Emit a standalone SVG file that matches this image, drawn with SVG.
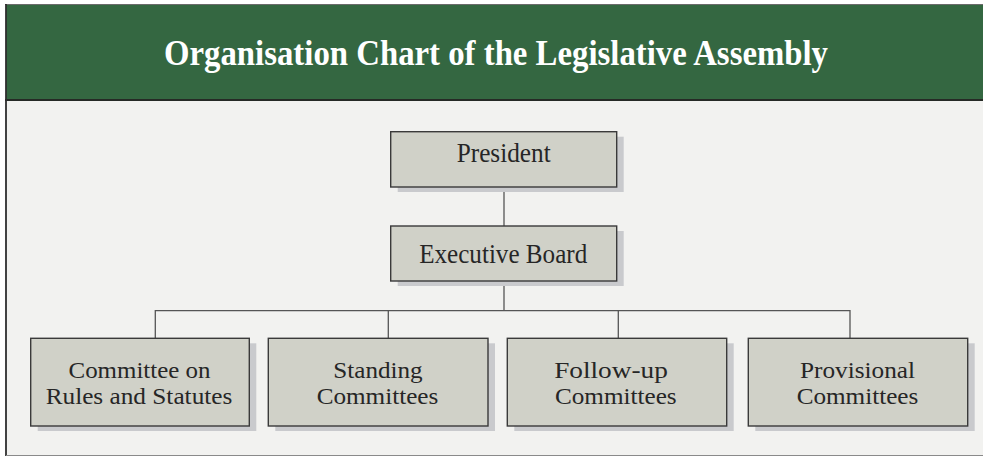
<svg xmlns="http://www.w3.org/2000/svg" width="983" height="457" viewBox="0 0 983 457">
<style>
.box{fill:#d0d1c8;stroke:#3a3a3a;stroke-width:1.4}
.shd{fill:#c9cacd}
.lbl{font-family:"Liberation Serif","Times New Roman",serif;font-size:27px;fill:#262626;text-anchor:middle}
.two{font-size:23px}
.conn{stroke:#555;stroke-width:1.3;fill:none}
</style>
<rect x="0" y="0" width="983" height="457" fill="#ffffff"/>
<rect x="6" y="5" width="980" height="450" fill="#f2f2f0"/>
<g id="header">
<rect x="6" y="5" width="980" height="95" fill="#346741"/>
<line x1="5" y1="4.5" x2="983" y2="4.5" stroke="#6b6b6b" stroke-width="1.2"/>
<line x1="5" y1="100" x2="983" y2="100" stroke="#262a26" stroke-width="2"/>
<text x="496" y="65" font-family="'Liberation Serif','Times New Roman',serif" font-size="35" font-weight="bold" fill="#ffffff" text-anchor="middle" textLength="664" lengthAdjust="spacingAndGlyphs">Organisation Chart of the Legislative Assembly</text>
</g>
<line x1="6" y1="4" x2="6" y2="456" stroke="#2e2e2e" stroke-width="1.8"/>
<line x1="6" y1="455.5" x2="983" y2="455.5" stroke="#8a8a8a" stroke-width="1.2"/>
<g id="connectors">
<line class="conn" x1="504" y1="187" x2="504" y2="226"/>
<line class="conn" x1="504" y1="281" x2="504" y2="310.7"/>
<path class="conn" d="M155.3 338.3 V310.7 H850 V338.3"/>
<line class="conn" x1="388.3" y1="310.7" x2="388.3" y2="338.3"/>
<line class="conn" x1="618.3" y1="310.7" x2="618.3" y2="338.3"/>
</g>
<g id="president">
<rect class="shd" x="397.7" y="136.7" width="226" height="55.3"/>
<rect class="box" x="390.7" y="131.7" width="226" height="55.3"/>
<text class="lbl" x="503.7" y="162.3" textLength="94" lengthAdjust="spacingAndGlyphs">President</text>
</g>
<g id="executive-board">
<rect class="shd" x="397.7" y="231" width="226" height="55"/>
<rect class="box" x="390.7" y="226" width="226" height="55"/>
<text class="lbl" x="503.2" y="262.7" textLength="168" lengthAdjust="spacingAndGlyphs">Executive Board</text>
</g>
<g id="rules">
<rect class="shd" x="37.7" y="343.3" width="218.6" height="87.7"/>
<rect class="box" x="30.7" y="338.3" width="218.6" height="87.7"/>
<text class="lbl two" x="139.5" y="378.2" textLength="142" lengthAdjust="spacingAndGlyphs">Committee on</text>
<text class="lbl two" x="139" y="403.8" textLength="186.7" lengthAdjust="spacingAndGlyphs">Rules and Statutes</text>
</g>
<g id="standing">
<rect class="shd" x="275.3" y="343.3" width="219.7" height="87.7"/>
<rect class="box" x="268.3" y="338.3" width="219.7" height="87.7"/>
<text class="lbl two" x="378" y="378.2" textLength="89.4" lengthAdjust="spacingAndGlyphs">Standing</text>
<text class="lbl two" x="377.5" y="403.8" textLength="121.7" lengthAdjust="spacingAndGlyphs">Committees</text>
</g>
<g id="follow-up">
<rect class="shd" x="514.3" y="343.3" width="219.4" height="87.7"/>
<rect class="box" x="507.3" y="338.3" width="219.4" height="87.7"/>
<text class="lbl two" x="611" y="378.2" textLength="113.7" lengthAdjust="spacingAndGlyphs">Follow-up</text>
<text class="lbl two" x="615.8" y="403.8" textLength="121.7" lengthAdjust="spacingAndGlyphs">Committees</text>
</g>
<g id="provisional">
<rect class="shd" x="755.3" y="343.3" width="219.4" height="87.7"/>
<rect class="box" x="748.3" y="338.3" width="219.4" height="87.7"/>
<text class="lbl two" x="857.5" y="378.2" textLength="115" lengthAdjust="spacingAndGlyphs">Provisional</text>
<text class="lbl two" x="857.5" y="403.8" textLength="121.7" lengthAdjust="spacingAndGlyphs">Committees</text>
</g>
</svg>
